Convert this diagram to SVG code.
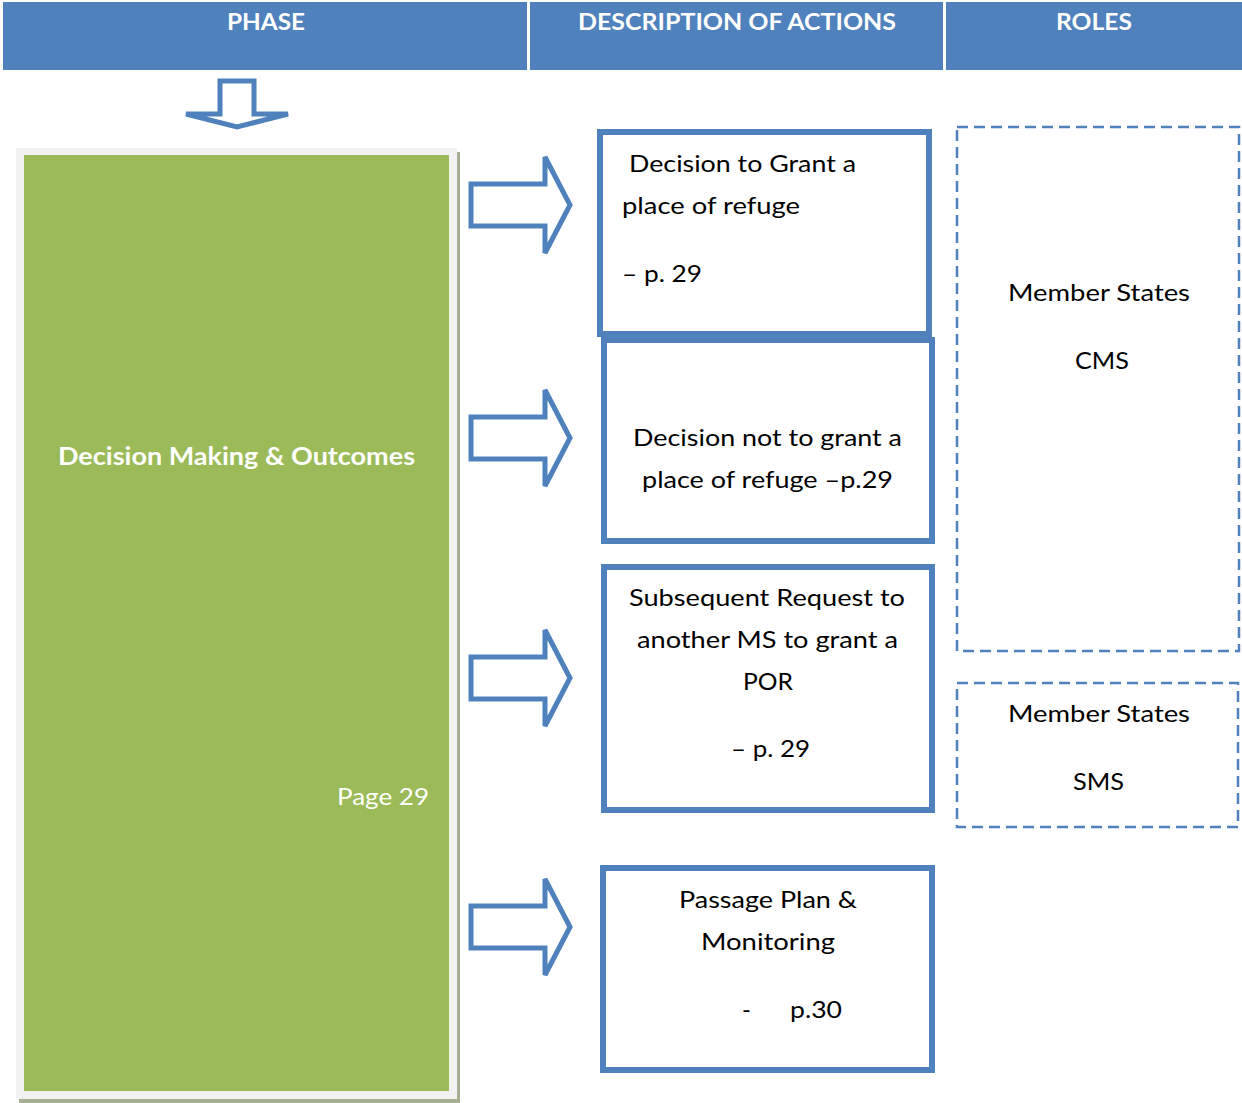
<svg xmlns="http://www.w3.org/2000/svg" width="1242" height="1103" viewBox="0 0 1242 1103">
<style>
.hdr{fill:#4F81BD}
.htxt{font-family:Lato,"Liberation Sans",sans-serif;font-weight:bold;font-size:22px;fill:#FFFFFF}
.txt{font-family:Lato,"Liberation Sans",sans-serif;font-size:24px;fill:#000000}
.wtxt{font-family:Lato,"Liberation Sans",sans-serif;font-size:24px;fill:#FFFFFF}
.box{fill:#FFFFFF;stroke:#4F81BD;stroke-width:6}
.dbox{fill:none;stroke:#4F81BD;stroke-width:2.5;stroke-dasharray:11 6}
.arrow{fill:#FFFFFF;stroke:#4F81BD;stroke-width:5;stroke-miterlimit:2.2}
</style>
<rect width="1242" height="1103" fill="#FFFFFF"/>
<g id="header">
<rect class="hdr" x="3" y="2" width="524" height="68"/>
<rect class="hdr" x="530" y="2" width="413" height="68"/>
<rect class="hdr" x="946" y="2" width="296" height="68"/>
<text class="htxt" x="227" y="30" textLength="78" lengthAdjust="spacingAndGlyphs">PHASE</text>
<text class="htxt" x="578" y="30" textLength="318" lengthAdjust="spacingAndGlyphs">DESCRIPTION OF ACTIONS</text>
<text class="htxt" x="1056" y="30" textLength="76" lengthAdjust="spacingAndGlyphs">ROLES</text>
</g>
<g id="phase">
<rect x="19" y="152" width="441" height="951" fill="#A6AF94"/>
<rect x="16" y="148" width="441" height="951" fill="#F2F2F2"/>
<rect x="24" y="155" width="425" height="936" fill="#9BBB59"/>
<text class="wtxt" x="58" y="465" font-weight="bold" textLength="357" lengthAdjust="spacingAndGlyphs">Decision Making &amp; Outcomes</text>
<text class="wtxt" x="337" y="805" textLength="92" lengthAdjust="spacingAndGlyphs">Page 29</text>
</g>
<g id="connectors">
<path class="arrow" d="M220,81 H254 V114 H288 L237,127 L186,114 H220 Z" stroke-width="6" stroke-miterlimit="2"/>
<path class="arrow" d="M471,184 H545 V157 L570,205 L545,253 V226 H471 Z"/>
<path class="arrow" d="M471,417 H545 V390 L570,438 L545,486 V459 H471 Z"/>
<path class="arrow" d="M471,657 H545 V630 L570,678 L545,726 V699 H471 Z"/>
<path class="arrow" d="M471,906 H545 V879 L570,927 L545,975 V948 H471 Z"/>
</g>
<g id="action1">
<rect class="box" x="600" y="132" width="329" height="202"/>
<text class="txt" x="629" y="172" textLength="227" lengthAdjust="spacingAndGlyphs">Decision to Grant a</text>
<text class="txt" x="622" y="214" textLength="178" lengthAdjust="spacingAndGlyphs">place of refuge</text>
<text class="txt" x="622" y="282" textLength="80" lengthAdjust="spacingAndGlyphs">– p. 29</text>
</g>
<g id="action2">
<rect class="box" x="604" y="340" width="328" height="201"/>
<text class="txt" x="633" y="446" textLength="269" lengthAdjust="spacingAndGlyphs">Decision not to grant a</text>
<text class="txt" x="642" y="488" textLength="251" lengthAdjust="spacingAndGlyphs">place of refuge –p.29</text>
</g>
<g id="action3">
<rect class="box" x="604" y="567" width="328" height="243"/>
<text class="txt" x="629" y="606" textLength="276" lengthAdjust="spacingAndGlyphs">Subsequent Request to</text>
<text class="txt" x="637" y="648" textLength="261" lengthAdjust="spacingAndGlyphs">another MS to grant a</text>
<text class="txt" x="743" y="690" textLength="50" lengthAdjust="spacingAndGlyphs">POR</text>
<text class="txt" x="731" y="757" textLength="79" lengthAdjust="spacingAndGlyphs">– p. 29</text>
</g>
<g id="action4">
<rect class="box" x="603" y="868" width="329" height="202"/>
<text class="txt" x="679" y="908" textLength="178" lengthAdjust="spacingAndGlyphs">Passage Plan &amp;</text>
<text class="txt" x="701" y="950" textLength="134" lengthAdjust="spacingAndGlyphs">Monitoring</text>
<text class="txt" y="1018"><tspan x="742">-</tspan><tspan x="790" textLength="52" lengthAdjust="spacingAndGlyphs">p.30</tspan></text>
</g>
<g id="role1">
<rect class="dbox" x="957" y="127" width="282" height="524"/>
<text class="txt" x="1008" y="301" textLength="182" lengthAdjust="spacingAndGlyphs">Member States</text>
<text class="txt" x="1075" y="369" textLength="54" lengthAdjust="spacingAndGlyphs">CMS</text>
</g>
<g id="role2">
<rect class="dbox" x="957" y="683" width="281" height="144"/>
<text class="txt" x="1008" y="722" textLength="182" lengthAdjust="spacingAndGlyphs">Member States</text>
<text class="txt" x="1073" y="790" textLength="51" lengthAdjust="spacingAndGlyphs">SMS</text>
</g>
</svg>
